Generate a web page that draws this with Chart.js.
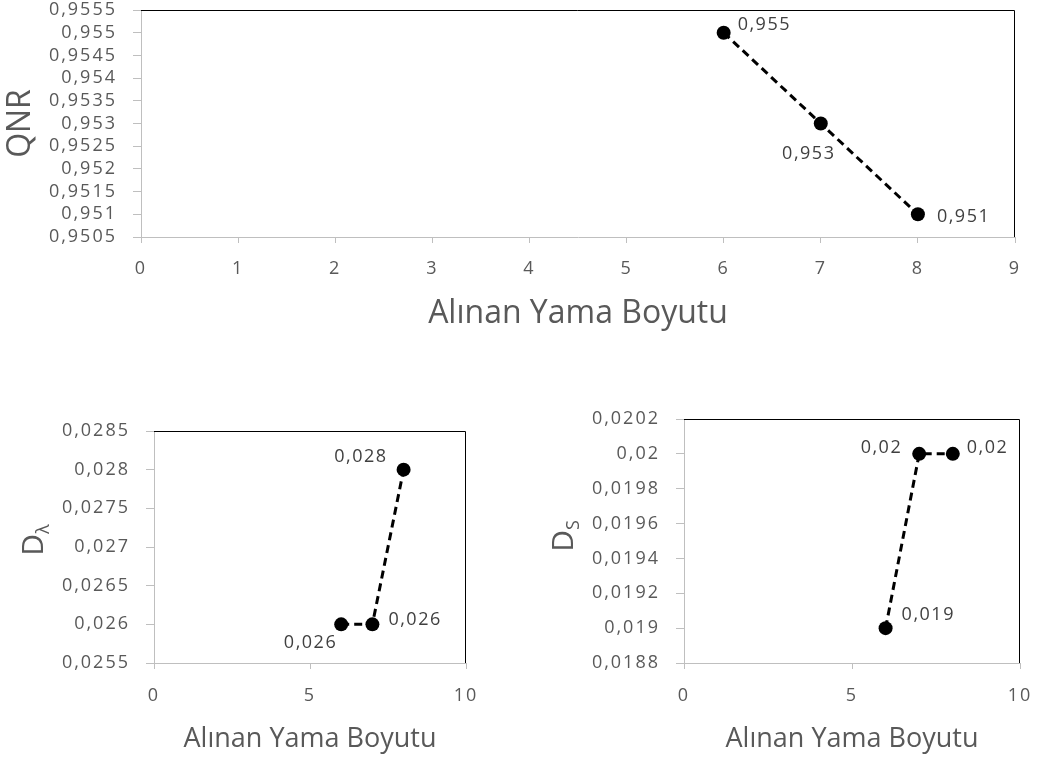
<!DOCTYPE html>
<html>
<head>
<meta charset="utf-8">
<title>Alınan Yama Boyutu</title>
<script src="https://cdn.jsdelivr.net/npm/chart.js@4.4.1/dist/chart.umd.min.js"></script>
<style>
body { margin: 0; background: #fff; }
#wrap { position: relative; width: 1038px; height: 760px; background: #fff; }
.box { position: absolute; }
</style>
</head>
<body>
<div id="wrap">
  <div class="box" style="left:0;top:0;width:1038px;height:340px"><canvas id="qnr"></canvas></div>
  <div class="box" style="left:0;top:400px;width:500px;height:360px"><canvas id="dl"></canvas></div>
  <div class="box" style="left:520px;top:400px;width:518px;height:360px"><canvas id="ds"></canvas></div>
</div>
<script>
// patch sizes on the x axis
const patchSizes = [6, 7, 8];

// measured scores
const qnrValues = [0.955, 0.953, 0.951];
const dLambdaValues = [0.026, 0.026, 0.028];
const dSValues = [0.019, 0.02, 0.02];

// axis ranges: [min, max, step]
const qnrYAxis = [0.9505, 0.9555, 0.0005];
const dLambdaYAxis = [0.0255, 0.0285, 0.0005];
const dSYAxis = [0.0188, 0.0202, 0.0002];
const topXAxis = [0, 9, 1];
const smallXAxis = [0, 10, 5];

const xTitle = 'Alınan Yama Boyutu';
const FONT = '"Open Sans", "Liberation Sans", sans-serif';
const GREY = '#595959';

Chart.defaults.font.family = FONT;

function fmt(v) {
  return parseFloat(v.toFixed(4)).toString().replace('.', ',');
}

// tick labels are drawn a bit wider than the font's default spacing
function spacedLabels(scale) {
  if (scale._spaced) return;
  scale._spaced = true;
  const base = scale.drawLabels;
  scale.drawLabels = function (area) {
    this.ctx.save();
    this.ctx.letterSpacing = '2px';
    base.call(this, area);
    this.ctx.restore();
  };
}

// value labels next to each point
const valueLabels = {
  id: 'valueLabels',
  afterDatasetsDraw(chart) {
    const ds = chart.data.datasets[0];
    const meta = chart.getDatasetMeta(0);
    const ctx = chart.ctx;
    ctx.save();
    ctx.font = '18px ' + FONT;
    ctx.letterSpacing = '1.5px';
    ctx.fillStyle = '#404040';
    ctx.textBaseline = 'middle';
    meta.data.forEach((pt, i) => {
      const [dx, dy, align] = ds.labelOffsets[i];
      ctx.textAlign = align;
      ctx.fillText(fmt(ds.data[i].y), pt.x + dx, pt.y + dy);
    });
    ctx.restore();
  }
};

// dark top and right edges of the plot area
const frame = {
  id: 'frame',
  afterDraw(chart) {
    const a = chart.chartArea;
    const ctx = chart.ctx;
    ctx.save();
    ctx.strokeStyle = '#000';
    ctx.lineWidth = 1;
    ctx.beginPath();
    ctx.moveTo(a.left, a.top + 0.5);
    ctx.lineTo(a.right - 0.5, a.top + 0.5);
    ctx.lineTo(a.right - 0.5, a.bottom);
    ctx.stroke();
    ctx.restore();
  }
};

// rotated y title with a subscript (D_λ, D_S)
const subTitle = {
  id: 'subTitle',
  afterDraw(chart, args, opts) {
    if (!opts.main) return;
    const ctx = chart.ctx;
    ctx.save();
    ctx.translate(opts.x, opts.y);
    ctx.rotate(-Math.PI / 2);
    ctx.fillStyle = GREY;
    ctx.textBaseline = 'alphabetic';
    ctx.font = '30px ' + FONT;
    const wMain = ctx.measureText(opts.main).width;
    ctx.font = '18px ' + FONT;
    const wSub = ctx.measureText(opts.sub).width;
    const x0 = -(wMain + wSub) / 2;
    ctx.font = '30px ' + FONT;
    ctx.fillText(opts.main, x0, 10);
    ctx.font = '18px ' + FONT;
    ctx.fillText(opts.sub, x0 + wMain, 16);
    ctx.restore();
  }
};

function makeChart(id, c) {
  return new Chart(document.getElementById(id), {
    type: 'scatter',
    data: {
      datasets: [{
        data: patchSizes.map((x, i) => ({ x: x, y: c.values[i] })),
        showLine: true,
        borderColor: '#000',
        borderWidth: 3,
        borderDash: [8, 5],
        pointRadius: 7,
        pointBackgroundColor: '#000',
        pointBorderColor: '#000',
        pointBorderWidth: 0,
        labelOffsets: c.labelOffsets
      }]
    },
    options: {
      responsive: true,
      maintainAspectRatio: false,
      animation: false,
      layout: { padding: c.padding },
      plugins: {
        legend: { display: false },
        tooltip: { enabled: false },
        subTitle: c.subTitle || {}
      },
      scales: {
        x: {
          type: 'linear',
          min: c.xAxis[0],
          max: c.xAxis[1],
          ticks: { stepSize: c.xAxis[2], color: GREY, font: { size: 18 }, padding: c.xTickPad, autoSkip: false },
          grid: { drawOnChartArea: false, tickLength: 6, color: '#bfbfbf' },
          border: { color: '#bfbfbf' },
          title: {
            display: true, text: xTitle, color: GREY,
            font: { size: c.xTitleSize },
            padding: { top: 0, bottom: c.xTitlePad }
          },
          afterFit: s => {
            s.height = c.xHeight;
            s.paddingLeft = 0;
            s.paddingRight = 0;
            spacedLabels(s);
          }
        },
        y: {
          type: 'linear',
          min: c.yAxis[0],
          max: c.yAxis[1],
          ticks: { stepSize: c.yAxis[2], color: GREY, font: { size: 18 }, padding: 16, autoSkip: false, callback: v => fmt(v) },
          grid: { drawOnChartArea: false, tickLength: 8, color: '#bfbfbf' },
          border: { color: '#bfbfbf' },
          title: {
            display: !!c.yTitle, text: c.yTitle || '', color: GREY,
            font: { size: 32 },
            padding: { top: 2, bottom: 0 }
          },
          afterFit: s => {
            s.width = c.yWidth;
            s.paddingTop = 0;
            s.paddingBottom = 0;
            spacedLabels(s);
          }
        }
      }
    },
    plugins: [valueLabels, frame, subTitle]
  });
}

function build() {
  makeChart('qnr', {
    values: qnrValues,
    xAxis: topXAxis,
    yAxis: qnrYAxis,
    padding: { left: 0, top: 10, right: 23, bottom: 0 },
    xHeight: 103, xTickPad: 15, xTitleSize: 32, xTitlePad: 7,
    yWidth: 141, yTitle: 'QNR',
    labelOffsets: [[14, -8, 'left'], [-12, 30, 'center'], [19, 3, 'left']]
  });

  makeChart('dl', {
    values: dLambdaValues,
    xAxis: smallXAxis,
    yAxis: dLambdaYAxis,
    padding: { left: 0, top: 31, right: 34, bottom: 0 },
    xHeight: 97, xTickPad: 16, xTitleSize: 27, xTitlePad: 4,
    yWidth: 154,
    subTitle: { main: 'D', sub: 'λ', x: 33, y: 140 },
    labelOffsets: [[-4, 19, 'right'], [16, -4, 'left'], [-16, -13, 'right']]
  });

  makeChart('ds', {
    values: dSValues,
    xAxis: smallXAxis,
    yAxis: dSYAxis,
    padding: { left: 0, top: 19, right: 18, bottom: 0 },
    xHeight: 97, xTickPad: 16, xTitleSize: 27, xTitlePad: 4,
    yWidth: 164,
    subTitle: { main: 'D', sub: 'S', x: 43, y: 136 },
    labelOffsets: [[16, -13, 'left'], [-17, -6, 'right'], [14, -6, 'left']]
  });
}

document.fonts.load('18px "Open Sans"').then(build, build);
</script>
</body>
</html>
